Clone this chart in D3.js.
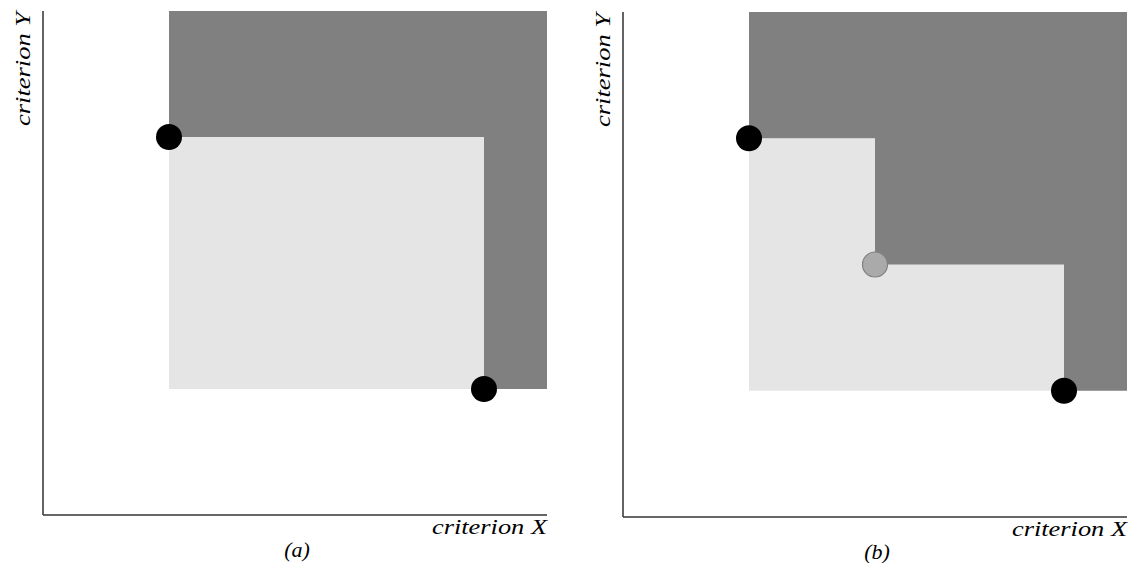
<!DOCTYPE html>
<html lang="en">
<head>
<meta charset="UTF-8">
<title>Dominated regions</title>
<script src="https://cdn.jsdelivr.net/npm/d3@7"></script>
<style>
  body { margin: 0; background: #fff; }
  .lbl { font-family: "Liberation Serif", "DejaVu Serif", serif; font-style: italic; fill: #000; }
</style>
</head>
<body>
<svg width="1128" height="563"></svg>
<script>
// data, in criterion units (0..100)
const panelNames = ["(a)", "(b)"];
const pointsA = [
  {x: 25, y: 75, kind: "front"},
  {x: 87.5, y: 25, kind: "front"}
];
const pointsB = [
  {x: 25, y: 75, kind: "front"},
  {x: 50, y: 50, kind: "new"},
  {x: 87.5, y: 25, kind: "front"}
];
const xLabel = "criterion X";
const yLabel = "criterion Y";

const svg = d3.select("svg");

// pixel frames for each panel
const frames = [
  {left: 43, right: 547, top: 11, bottom: 515, pts: pointsA, name: panelNames[0]},
  {left: 623, right: 1127, top: 12, bottom: 517, pts: pointsB, name: panelNames[1]}
];

frames.forEach(f => {
  const x = d3.scaleLinear().domain([0, 100]).range([f.left, f.right]);
  const y = d3.scaleLinear().domain([0, 100]).range([f.bottom, f.top]);
  const g = svg.append("g");

  // light box spanned by the front points
  const front = f.pts.filter(p => p.kind === "front");
  const x0 = d3.min(front, p => p.x), x1 = d3.max(front, p => p.x);
  const y0 = d3.min(front, p => p.y), y1 = d3.max(front, p => p.y);
  g.append("rect")
    .attr("x", x(x0)).attr("y", y(y1))
    .attr("width", x(x1) - x(x0)).attr("height", y(y0) - y(y1))
    .attr("fill", "#e5e5e5");

  // dark dominated region: staircase through every point
  const sorted = f.pts.slice().sort((a, b) => a.x - b.x);
  const stair = [[sorted[0].x, 100]];
  sorted.forEach((p, i) => {
    stair.push([p.x, p.y]);
    if (i < sorted.length - 1) stair.push([sorted[i + 1].x, p.y]);
  });
  stair.push([100, sorted[sorted.length - 1].y], [100, 100]);
  g.append("path")
    .attr("d", d3.line().x(d => x(d[0])).y(d => y(d[1]))(stair) + "Z")
    .attr("fill", "#808080");

  // axes
  g.append("line")
    .attr("x1", x(0)).attr("x2", x(0)).attr("y1", y(0)).attr("y2", y(100))
    .attr("stroke", "#222").attr("stroke-width", 1.4);
  g.append("line")
    .attr("x1", x(0)).attr("x2", x(100)).attr("y1", y(0)).attr("y2", y(0))
    .attr("stroke", "#333").attr("stroke-width", 1.4);

  // points
  g.selectAll("circle")
    .data(f.pts)
    .join("circle")
    .attr("cx", d => x(d.x)).attr("cy", d => y(d.y))
    .attr("r", d => d.kind === "front" ? 13 : 12.5)
    .attr("fill", d => d.kind === "front" ? "#000" : "#aaaaaa")
    .attr("stroke", d => d.kind === "front" ? "none" : "#808080")
    .attr("stroke-width", 1.2);

  // labels
  g.append("text").attr("class", "lbl")
    .attr("x", x(100)).attr("y", y(0) + 19)
    .attr("text-anchor", "end")
    .attr("font-size", 20)
    .attr("textLength", 115).attr("lengthAdjust", "spacingAndGlyphs")
    .text(xLabel);
  g.append("text").attr("class", "lbl")
    .attr("transform", `translate(${x(0) - 13},${y(100) + 1}) rotate(-90)`)
    .attr("text-anchor", "end")
    .attr("font-size", 20)
    .attr("textLength", 114).attr("lengthAdjust", "spacingAndGlyphs")
    .text(yLabel);
  g.append("text").attr("class", "lbl")
    .attr("x", (x(0) + x(100)) / 2 + 2).attr("y", y(0) + 42)
    .attr("text-anchor", "middle")
    .attr("font-size", 22)
    .text(f.name);
});
</script>
</body>
</html>
